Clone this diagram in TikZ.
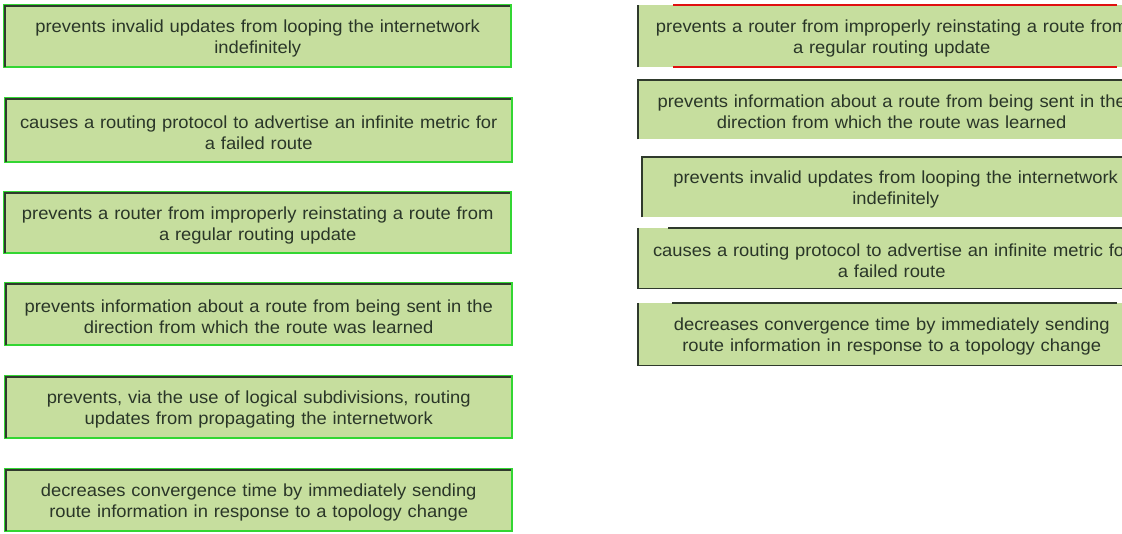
\documentclass[tikz,border=0pt]{standalone}
\usepackage{fontspec}
\setmainfont{Liberation Sans}[FakeStretch=1.05]
\definecolor{boxfill}{HTML}{C6DE9E}
\definecolor{brightgreen}{HTML}{33D633}
\definecolor{darkedge}{HTML}{2F3A2C}
\definecolor{textcol}{HTML}{2A3628}
\definecolor{redline}{HTML}{E01010}
\tikzset{
  lbox/.style={fill=boxfill, draw=brightgreen, line width=2.4pt, inner sep=0pt,
    minimum width=507pt, minimum height=62pt, anchor=north west},
  rbox/.style={fill=boxfill, draw=none, inner sep=0pt,
    minimum width=507pt, minimum height=61pt, anchor=north west},
  boxtext/.style={inner sep=0pt, text width=500pt, align=center, text=textcol,
    font=\fontsize{17.5}{21}\selectfont},
  darkline/.style={draw=darkedge, line width=1.3pt},
  redrule/.style={draw=redline, line width=2pt}
}
\begin{document}
\begin{tikzpicture}[x=1pt,y=1pt]
\useasboundingbox (0,0) rectangle (1122,534);
\clip (0,0) rectangle (1122,534);
% left column
\node[lbox] (L1) at (3,530) {};
\node[lbox, minimum height=64pt] (L2) at (4,437) {};
\node[lbox, minimum height=61pt] (L3) at (3,343) {};
\node[lbox] (L4) at (4,252) {};
\node[lbox] (L5) at (4,159) {};
\node[lbox] (L6) at (4,66) {};
\foreach \n in {L1,L2,L3,L4,L5,L6}{
  \draw[darkline] ([shift={(2pt,1pt)}]\n.south west) -- ([shift={(2pt,-2pt)}]\n.north west) -- ([shift={(-2pt,-2pt)}]\n.north east);
}
\node[boxtext] (L1t) at ([yshift=-2.5pt]L1.center) {prevents invalid updates from looping the internetwork\\indefinitely};
\node[boxtext] (L2t) at ([yshift=-2.5pt]L2.center) {causes a routing protocol to advertise an infinite metric for\\a failed route};
\node[boxtext] (L3t) at ([yshift=-2.5pt]L3.center) {prevents a router from improperly reinstating a route from\\a regular routing update};
\node[boxtext] (L4t) at ([yshift=-2.5pt]L4.center) {prevents information about a route from being sent in the\\direction from which the route was learned};
\node[boxtext] (L5t) at ([yshift=-2.5pt]L5.center) {prevents, via the use of logical subdivisions, routing\\updates from propagating the internetwork};
\node[boxtext] (L6t) at ([yshift=-2.5pt]L6.center) {decreases convergence time by immediately sending\\route information in response to a topology change};
% right column
\node[rbox, minimum height=62pt] (R1) at (638,529) {};
\node[rbox, minimum height=59pt] (R2) at (638,454) {};
\node[rbox, minimum height=60pt] (R3) at (642,377) {};
\node[rbox, minimum height=60pt] (R4) at (638,306) {};
\node[rbox, minimum height=62pt] (R5) at (638,231) {};
\node[boxtext] (R1t) at ([yshift=-2.5pt]R1.center) {prevents a router from improperly reinstating a route from\\a regular routing update};
\node[boxtext] (R2t) at ([yshift=-2.5pt]R2.center) {prevents information about a route from being sent in the\\direction from which the route was learned};
\node[boxtext] (R3t) at ([yshift=-2.5pt]R3.center) {prevents invalid updates from looping the internetwork\\indefinitely};
\node[boxtext] (R4t) at ([yshift=-2.5pt]R4.center) {causes a routing protocol to advertise an infinite metric for\\a failed route};
\node[boxtext] (R5t) at ([yshift=-2.5pt]R5.center) {decreases convergence time by immediately sending\\route information in response to a topology change};
% R1 edges
\draw[darkline] (R1.south west) -- (R1.north west);
\draw[redrule] ([xshift=35pt]R1.north west) -- ([xshift=479pt]R1.north west);
\draw[redrule] ([xshift=35pt]R1.south west) -- ([xshift=479pt]R1.south west);
% R2 edges
\draw[darkline] (R2.south west) -- (R2.north west) -- (R2.north east);
% R3 edges
\draw[darkline] (R3.south west) -- (R3.north west) -- (R3.north east);
% R4 edges
\draw[darkline] (R4.north west) -- (R4.south west) -- (R4.south east);
\draw[darkline] ([xshift=30pt]R4.north west) -- (R4.north east);
% R5 edges
\draw[darkline] ([xshift=34pt]R5.north west) -- ([xshift=479pt]R5.north west);
\draw[darkline] (R5.north west) -- (R5.south west) -- (R5.south east);
\end{tikzpicture}
\end{document}
